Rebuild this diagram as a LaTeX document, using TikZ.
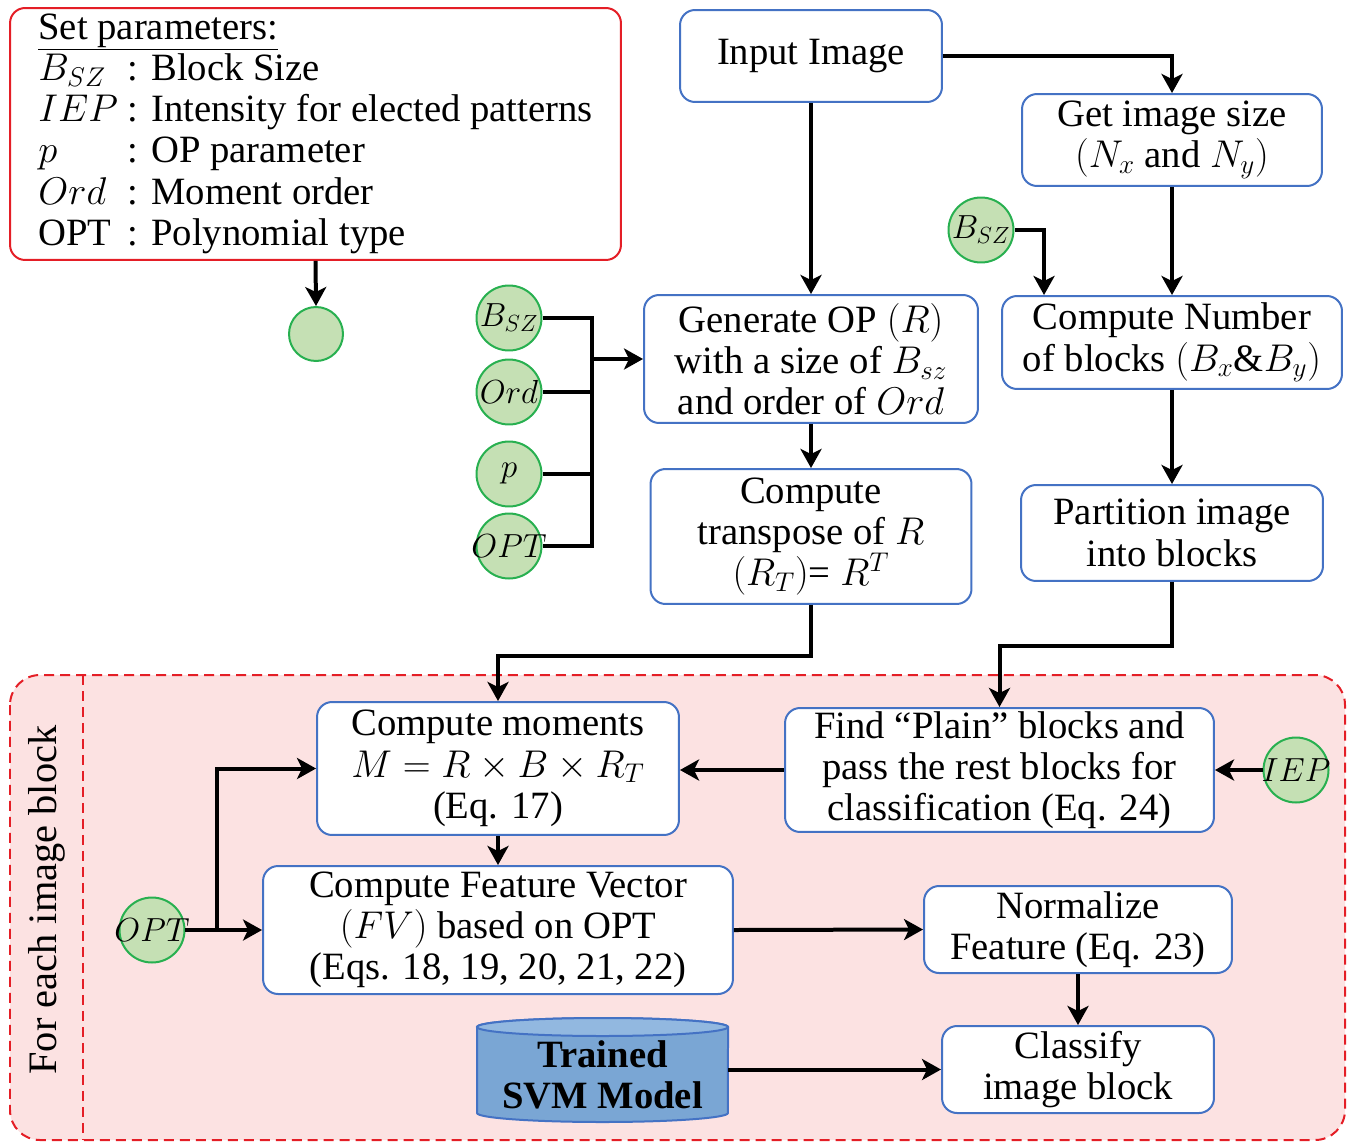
\RequirePackage{fix-cm}
\documentclass[tikz,border=0pt]{standalone}
\usepackage{fontspec}
\setmainfont{Liberation Serif}
\usetikzlibrary{arrows.meta}
\definecolor{boxblue}{RGB}{68,114,196}
\definecolor{parred}{RGB}{228,30,38}
\definecolor{blockpink}{RGB}{252,226,226}
\definecolor{circfill}{RGB}{197,224,180}
\definecolor{circline}{RGB}{40,176,80}
\definecolor{svmfill}{RGB}{122,166,212}
\definecolor{svmtop}{RGB}{146,184,224}
\newcommand{\txtsize}{\fontsize{22}{23.5}\selectfont}
\tikzset{
  stepbox/.style={draw=boxblue, line width=0.04cm, rounded corners=0.3cm, fill=white,
    align=center, inner sep=0pt, font=\txtsize},
  param/.style={circle, draw=circline, fill=circfill, line width=0.04cm,
    minimum size=1.3cm, inner sep=-0.3cm, font=\fontsize{19}{20}\selectfont},
  conn/.style={line width=0.08cm},
  arr/.style={conn, -{Stealth[length=0.38cm,width=0.42cm,inset=0.1cm]}},
  reddash/.style={draw=parred, line width=0.04cm, dash pattern=on 0.2cm off 0.12cm},
}
\begin{document}
\begin{tikzpicture}[x=0.02cm,y=-0.02cm]
\useasboundingbox (0,0) rectangle (1351,1142);

\draw[reddash, fill=blockpink, rounded corners=0.6cm] (10,675) rectangle (1345,1140);
\draw[reddash] (83,675) -- (83,1140);
\node[rotate=90, font=\fontsize{23}{24}\selectfont] (each) at (47,900) {For each image block};

\node[draw=parred, line width=0.04cm, rounded corners=0.3cm, minimum width=12.22cm,
  minimum height=5.04cm, inner sep=0pt, font=\txtsize] (params) at (315.5,134)
  {\begin{tabular}{@{}l@{\ }l@{}}
   \multicolumn{2}{@{}l@{}}{\underline{Set parameters:}}\\
   $B_{SZ}$ & : Block Size\\
   $IEP$ & : Intensity for elected patterns\\
   $p$ & : OP parameter\\
   $Ord$ & : Moment order\\
   OPT & : Polynomial type
   \end{tabular}};
\node[param, minimum size=1.08cm, inner sep=0pt] (dot) at (316,334) {};

\node[stepbox, minimum width=5.24cm, minimum height=1.84cm] (inimg) at (811,56) {Input Image};
\node[stepbox, minimum width=6cm, minimum height=1.84cm] (imsize) at (1172,140) {Get image size\\ $(N_x$ and $N_y)$};
\node[stepbox, minimum width=6.68cm, minimum height=2.56cm] (genop) at (811,359) {Generate OP $(R)$\\ with a size of $B_{sz}$\\ and order of $Ord$};
\node[stepbox, minimum width=6.42cm, minimum height=2.7cm] (transp) at (811,536.5) {Compute\\ transpose of $R$\\ $(R_T)$= $R^T$};
\node[stepbox, minimum width=6.8cm, minimum height=1.86cm] (nblk) at (1172,342.5) {Compute Number\\ of blocks $(B_x\&B_y)$};
\node[stepbox, minimum width=6.04cm, minimum height=1.92cm] (part) at (1172,533) {Partition image\\ into blocks};

\node[param] (bsz1) at (509,318) {$B_{SZ}$};
\node[param] (ord) at (509,392) {$Ord$};
\node[param] (p) at (509,474) {$p$};
\node[param] (opt1) at (509,546) {$OPT$};
\node[param] (bsz2) at (981,230) {$B_{SZ}$};
\coordinate (jn) at (592,359);

\node[stepbox, minimum width=7.24cm, minimum height=2.66cm] (mom) at (498,768.5) {Compute moments\\ $M = R\times B\times R_T$\\ (Eq. 17)};
\node[stepbox, minimum width=8.58cm, minimum height=2.48cm] (plain) at (999.5,770) {Find “Plain” blocks and\\ pass the rest blocks for\\ classification (Eq. 24)};
\node[param] (iep) at (1296,770) {$IEP$};
\node[stepbox, minimum width=9.4cm, minimum height=2.56cm] (fv) at (498,930) {Compute Feature Vector\\ $(FV)$ based on OPT\\ (Eqs. 18, 19, 20, 21, 22)};
\node[param] (opt2) at (152,930) {$OPT$};
\coordinate (br) at (217,930);
\node[stepbox, minimum width=6.16cm, minimum height=1.74cm] (norm) at (1078,929.5) {Normalize\\ Feature (Eq. 23)};
\node[stepbox, minimum width=5.44cm, minimum height=1.74cm] (cls) at (1078,1069.5) {Classify\\ image block};

\filldraw[fill=svmfill, draw=boxblue, line width=0.04cm] (477,1027) -- (477,1113)
  arc[start angle=180, end angle=360, x radius=2.51cm, y radius=0.18cm] -- (728,1027)
  arc[start angle=0, end angle=180, x radius=2.51cm, y radius=0.18cm] -- cycle;
\filldraw[fill=svmtop, draw=boxblue, line width=0.04cm] (602.5,1027) ellipse[x radius=2.51cm, y radius=0.18cm];
\node[font=\bfseries\txtsize, align=center, minimum width=5.02cm, inner sep=0pt] (svm) at (602.5,1075) {Trained\\ SVM Model};

\draw[arr] (params.south) -- (dot.north);
\draw[arr] (inimg.east) -| (imsize.north);
\draw[arr] (inimg.south) -- (genop.north);
\draw[arr] (genop.south) -- (transp.north);
\draw[conn] (bsz1.east) -| (jn) |- (opt1.east);
\draw[conn] (ord.east) -- (ord -| jn);
\draw[conn] (p.east) -- (p -| jn);
\draw[arr] (jn) -- (genop.west);
\draw[arr] (bsz2.east) -| ([xshift=0.86cm]nblk.north west);
\draw[arr] (imsize.south) -- (nblk.north);
\draw[arr] (nblk.south) -- (part.north);
\draw[arr] (transp.south) -- ++(0,51) -| (mom.north);
\draw[arr] (part.south) -- ++(0,64) -| (plain.north);
\draw[arr] (plain.west) -- (plain.west -| mom.east);
\draw[arr] (iep.west) -- (plain.east);
\draw[arr] (mom.south) -- (fv.north);
\draw[arr] (opt2.east) -- (fv.west);
\draw[arr] (br) |- (mom.west);
\draw[arr] (fv.east) -- (norm.west);
\draw[arr] (norm.south) -- (cls.north);
\draw[arr] (svm.east |- cls.west) -- (cls.west);
\end{tikzpicture}
\end{document}
